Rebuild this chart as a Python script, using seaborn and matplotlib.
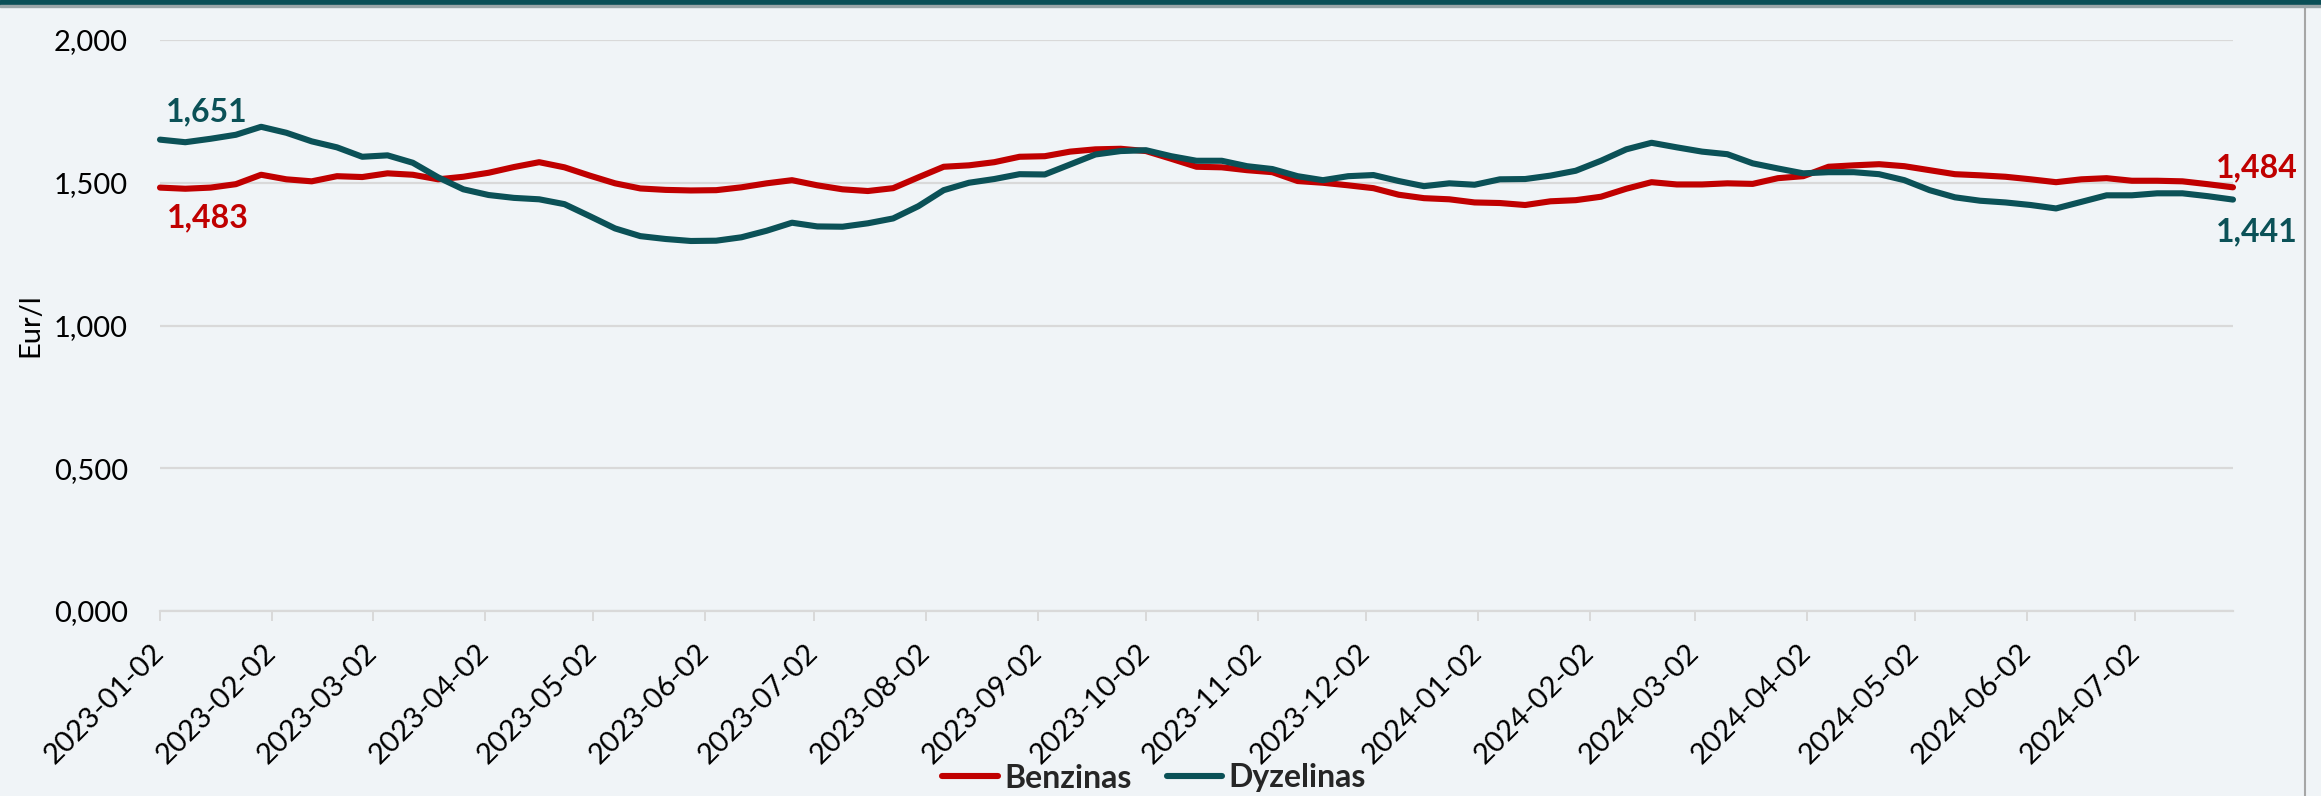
import numpy as np
import pandas as pd
import matplotlib
matplotlib.use("Agg")
import matplotlib.pyplot as plt
from matplotlib.ticker import FuncFormatter
from matplotlib.patches import Rectangle
from matplotlib.lines import Line2D
import seaborn as sns

# ---------------- data ----------------
start_date = "2023-01-02"
n_weeks = 83
series_names = ["Benzinas", "Dyzelinas"]
benzinas = [
    1.483, 1.479, 1.483, 1.495, 1.528, 1.512, 1.505, 1.523, 1.520, 1.533,
    1.528, 1.512, 1.521, 1.535, 1.555, 1.572, 1.554, 1.525, 1.498, 1.480,
    1.475, 1.473, 1.474, 1.484, 1.498, 1.509, 1.491, 1.477, 1.471, 1.481,
    1.519, 1.556, 1.561, 1.572, 1.591, 1.593, 1.609, 1.617, 1.619, 1.611,
    1.584, 1.556, 1.554, 1.544, 1.537, 1.506, 1.500, 1.491, 1.481, 1.458,
    1.446, 1.442, 1.431, 1.429, 1.422, 1.435, 1.439, 1.451, 1.479, 1.502,
    1.494, 1.494, 1.498, 1.496, 1.516, 1.523, 1.556, 1.561, 1.565, 1.558,
    1.544, 1.530, 1.526, 1.521, 1.512, 1.502, 1.512, 1.516, 1.507, 1.507,
    1.505, 1.495, 1.484,
]
dyzelinas = [
    1.651, 1.642, 1.654, 1.668, 1.696, 1.675, 1.645, 1.624, 1.591, 1.596,
    1.570, 1.519, 1.477, 1.457, 1.447, 1.442, 1.425, 1.383, 1.340, 1.313,
    1.303, 1.296, 1.297, 1.309, 1.332, 1.360, 1.347, 1.346, 1.358, 1.375,
    1.418, 1.474, 1.500, 1.513, 1.530, 1.529, 1.564, 1.599, 1.611, 1.614,
    1.593, 1.577, 1.577, 1.558, 1.548, 1.523, 1.509, 1.523, 1.527, 1.506,
    1.488, 1.498, 1.493, 1.512, 1.513, 1.525, 1.542, 1.577, 1.617, 1.640,
    1.624, 1.609, 1.600, 1.568, 1.550, 1.533, 1.537, 1.537, 1.530, 1.509,
    1.474, 1.449, 1.437, 1.431, 1.422, 1.410, 1.433, 1.456, 1.456, 1.463,
    1.463, 1.453, 1.441,
]
y_ticks = [0.0, 0.5, 1.0, 1.5, 2.0]
tick_start = "2023-01-02"
tick_end = "2024-07-02"
y_label = "Eur/l"

# ---------------- style ----------------
RED = "#C00000"
TEAL = "#0B5157"
BG = "#F0F4F7"
GRID = "#D9D9D9"

sns.set_theme(style="white")
plt.rcParams["font.family"] = ["Lato", "DejaVu Sans"]

dates = pd.date_range(start_date, periods=n_weeks, freq="7D")
df = pd.DataFrame({
    "date": np.concatenate([dates, dates]),
    "value": np.concatenate([benzinas, dyzelinas]),
    "series": [series_names[0]] * n_weeks + [series_names[1]] * n_weeks,
})

W, H, DPI = 2321, 796, 100
fig = plt.figure(figsize=(W / DPI, H / DPI), dpi=DPI, facecolor=BG)
ax = fig.add_axes([160 / W, 1 - 611 / H, (2233 - 160) / W, (611 - 40) / H])
ax.set_facecolor(BG)

sns.lineplot(data=df, x="date", y="value", hue="series",
             palette={series_names[0]: RED, series_names[1]: TEAL},
             linewidth=4.4, ax=ax, legend=False, solid_capstyle="round",
             clip_on=False)

ax.set_xlim(dates[0], dates[-1])
ax.set_ylim(0, 2.0)
ax.set_yticks(y_ticks)
ax.yaxis.set_major_formatter(FuncFormatter(lambda v, p: f"{v:.3f}".replace(".", ",")))
ax.grid(axis="y", color=GRID, linewidth=1.6)
ax.grid(axis="x", visible=False)
for s in ["top", "right", "left"]:
    ax.spines[s].set_visible(False)
ax.spines["bottom"].set_color(GRID)
ax.spines["bottom"].set_linewidth(1.6)

tick_dates = pd.date_range(tick_start, tick_end, freq=pd.DateOffset(months=1))
ax.set_xticks(tick_dates)
ax.set_xticklabels([d.strftime("%Y-%m-%d") for d in tick_dates],
                   rotation=45, ha="right", va="center", rotation_mode="anchor",
                   fontsize=21, color="black")
ax.tick_params(axis="x", length=7.2, width=1.4, color=GRID, pad=20, bottom=True)
ax.tick_params(axis="y", length=0, pad=23, labelsize=21, labelcolor="black")
ax.set_xlabel("")
ax.set_ylabel("")

fig.text(30 / W, 1 - 325 / H, y_label, rotation=90, ha="center", va="center",
         fontsize=21, color="black")

# end labels
def lab(x, y, txt, color, dx, dy, ha):
    ax.annotate(txt, xy=(x, y), xytext=(dx, dy), textcoords="offset points",
                ha=ha, va="center", fontsize=23, fontweight="bold", color=color)

fmt = lambda v: f"{v:.3f}".replace(".", ",")
lab(dates[0], dyzelinas[0], fmt(dyzelinas[0]), TEAL, 4, 20, "left")
lab(dates[0], benzinas[0], fmt(benzinas[0]), RED, 5, -22, "left")
lab(dates[-1], benzinas[-1], fmt(benzinas[-1]), RED, 17, 14, "center")
lab(dates[-1], dyzelinas[-1], fmt(dyzelinas[-1]), TEAL, 17, -23, "center")

# legend
handles = [Line2D([0], [0], color=RED, lw=4.4, solid_capstyle="round"),
           Line2D([0], [0], color=TEAL, lw=4.4, solid_capstyle="round")]
fig.legend(handles, series_names, loc="center", bbox_to_anchor=(1154 / W, 1 - 778 / H),
           ncol=2, frameon=False, handlelength=1.75, handletextpad=0.2,
           columnspacing=1.1, prop={"family": ["Lato", "DejaVu Sans"], "weight": "bold", "size": 23})

# frame decorations
fig.patches.append(Rectangle((0, 1 - 5 / H), 1, 5 / H, transform=fig.transFigure,
                             color="#0A4F57", zorder=10))
fig.patches.append(Rectangle((0, 1 - 6.5 / H), 1, 1.5 / H, transform=fig.transFigure,
                             color="#9AA5A8", zorder=10))
fig.add_artist(Line2D([2305 / W, 2305 / W], [0, 1 - 6 / H], transform=fig.transFigure,
                      color="#A6A6A6", lw=1.5))

fig.savefig("out.png", dpi=DPI, facecolor=BG)
